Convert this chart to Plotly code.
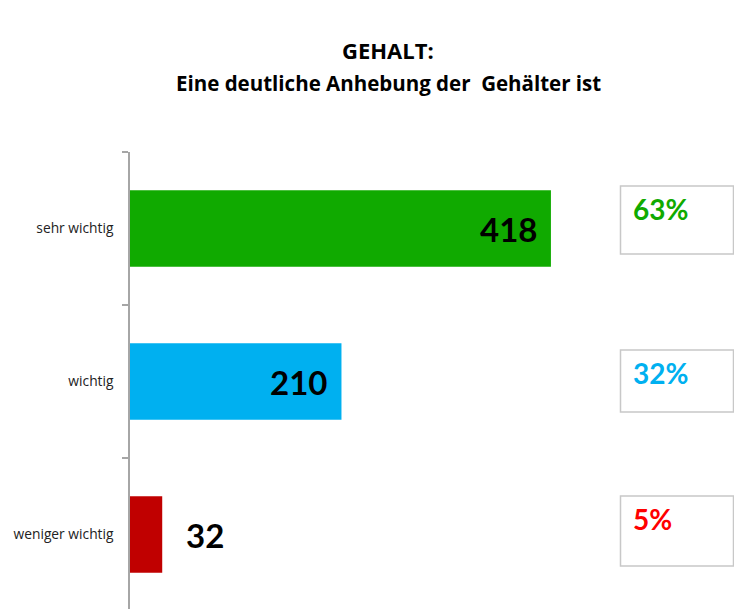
import plotly.graph_objects as go

categories = ["sehr wichtig", "wichtig", "weniger wichtig"]
values = [418, 210, 32]
bar_colors = ["#10AA00", "#00B0F0", "#C00000"]
pct_colors = ["#10AA00", "#00B0F0", "#FF0000"]
title_line1 = "GEHALT:"
title_line2 = "Eine deutliche Anhebung der  Gehälter ist"

W, H = 734, 609
ML, MR, MT, MB = 130, 134, 152, 0
PW, PH = W - ML - MR, H - MT - MB
PX_PER_UNIT = 1.007
BAND = 153.0

def px_x(px):
    return (px - ML) / PW

def px_y(py):
    return 1 - (py - MT) / PH

total = sum(values)
pcts = [round(v / total * 100) for v in values]

fig = go.Figure()
fig.add_trace(go.Bar(
    y=list(range(len(categories))), x=values, orientation="h",
    marker=dict(color=bar_colors, line=dict(width=0)),
    width=0.5, hoverinfo="skip",
))

annotations = []
# value labels
for i, v in enumerate(values):
    inside = v > 100
    annotations.append(dict(
        x=v, y=i, xref="x", yref="y", text=str(v), showarrow=False,
        xanchor="right" if inside else "left",
        xshift=-12 if inside else 22,
        font=dict(family="Lato", size=33, color="black", weight="bold"),
    ))

# percentage boxes
box_tops = [186, 350, 496]
box_bottoms = [254, 412, 566]
shapes = []
for i, p in enumerate(pcts):
    shapes.append(dict(
        type="rect", xref="paper", yref="paper",
        x0=px_x(620.5), x1=px_x(733.5), y0=px_y(box_tops[i]), y1=px_y(box_bottoms[i]),
        line=dict(color="#C8C8C8", width=1.5), fillcolor="white",
    ))
    annotations.append(dict(
        x=px_x(631), y=px_y(box_tops[i] + 4), xref="paper", yref="paper",
        xanchor="left", yanchor="top", showarrow=False, text=f"{p}%",
        font=dict(family="Lato", size=28, color=pct_colors[i], weight="bold"),
    ))

# title
annotations.append(dict(
    x=px_x(388), y=px_y(50), xref="paper", yref="paper", xanchor="center", yanchor="middle",
    showarrow=False, text=title_line1,
    font=dict(family="Open Sans", size=22, color="black", weight="bold"),
))
annotations.append(dict(
    x=px_x(388), y=px_y(83), xref="paper", yref="paper", xanchor="center", yanchor="middle",
    showarrow=False, text=title_line2,
    font=dict(family="Open Sans", size=20.5, color="black", weight="bold"),
))

fig.update_layout(
    width=W, height=H, margin=dict(l=ML, r=MR, t=MT, b=MB, pad=0),
    plot_bgcolor="white", paper_bgcolor="white", showlegend=False,
    annotations=annotations, shapes=shapes,
    xaxis=dict(range=[0, PW / PX_PER_UNIT], visible=False, showgrid=False, zeroline=False),
    yaxis=dict(
        range=[-0.5 + PH / BAND, -0.5],
        tickmode="array", tickvals=list(range(len(categories))), ticktext=categories,
        showline=True, linecolor="#A6A6A6", linewidth=1.5,
        ticks="", showgrid=False, zeroline=False,
        tickfont=dict(family="Open Sans", size=13.8, color="#222222"),
        ticklabelstandoff=12,
    ),
)
fig.update_yaxes(minor=dict(tickvals=[-0.5, 0.5, 1.5, 2.5], ticks="outside", ticklen=6,
                            tickcolor="#A6A6A6", tickwidth=1.5))

fig.write_html("out.html")
